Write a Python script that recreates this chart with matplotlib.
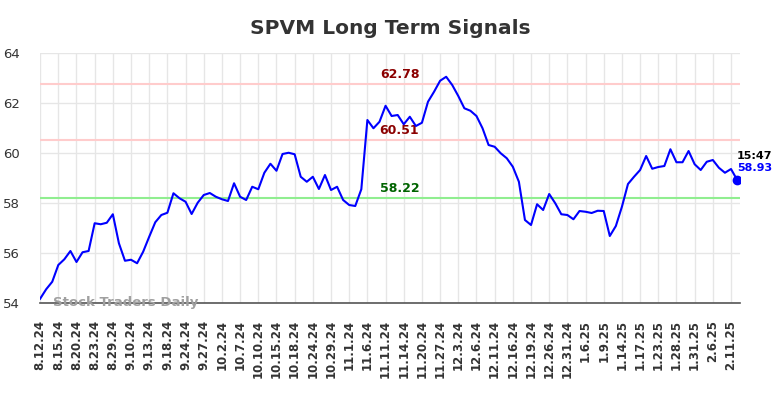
"""
SPVM long term signals chart: closing prices with the three signal levels.
"""

import matplotlib
matplotlib.use('Agg')
import matplotlib.pyplot as plt


title = 'SPVM Long Term Signals'

prices = [
	54.17, 54.55, 54.85, 55.52, 55.75, 56.08, 55.64, 56.03, 56.08, 57.19,
	57.15, 57.21, 57.55, 56.39, 55.69, 55.73, 55.59, 56.05, 56.65, 57.23,
	57.52, 57.61, 58.39, 58.19, 58.05, 57.56, 58.01, 58.32, 58.40, 58.25,
	58.15, 58.08, 58.79, 58.25, 58.12, 58.65, 58.55, 59.21, 59.57, 59.29,
	59.96, 60.01, 59.95, 59.05, 58.85, 59.05, 58.56, 59.12, 58.52, 58.65,
	58.12, 57.92, 57.88, 58.55, 61.32, 60.99, 61.25, 61.89, 61.48, 61.52,
	61.15, 61.45, 61.08, 61.21, 62.05, 62.45, 62.89, 63.05, 62.72, 62.28,
	61.79, 61.69, 61.48, 60.99, 60.32, 60.25, 59.99, 59.79, 59.45, 58.85,
	57.32, 57.12, 57.95, 57.72, 58.36, 57.99, 57.55, 57.52, 57.35, 57.68,
	57.65, 57.60, 57.69, 57.68, 56.68, 57.08, 57.85, 58.76, 59.05, 59.32,
	59.88, 59.37, 59.44, 59.48, 60.15, 59.63, 59.63, 60.08, 59.55, 59.32,
	59.65, 59.72, 59.41, 59.21, 59.36, 58.93,
]

# one label every third session
tick_labels = [
	'8.12.24', '8.15.24', '8.20.24', '8.23.24', '8.29.24', '9.10.24',
	'9.13.24', '9.18.24', '9.24.24', '9.27.24', '10.2.24', '10.7.24',
	'10.10.24', '10.15.24', '10.18.24', '10.24.24', '10.29.24', '11.1.24',
	'11.6.24', '11.11.24', '11.14.24', '11.20.24', '11.27.24', '12.3.24',
	'12.6.24', '12.11.24', '12.16.24', '12.19.24', '12.26.24', '12.31.24',
	'1.6.25', '1.9.25', '1.14.25', '1.17.25', '1.23.25', '1.28.25',
	'1.31.25', '2.6.25', '2.11.25',
]

resistance = [62.78, 60.51]
support = [58.22]
last_time = '15:47'


def main():
	fig = plt.figure(figsize=(7.84, 3.98), dpi=100)
	ax = fig.add_axes([0.0504, 0.2387, 0.8936, 0.6281])

	xs = list(range(len(prices)))
	ax.plot(xs, prices, color='#0000ff', linewidth=1.5, zorder=4)
	ax.plot(xs[-1], prices[-1], 'o', color='#0000ff', markersize=6, zorder=5)

	for level in resistance:
		ax.axhline(level, color='#ffcccc', linewidth=1.5, zorder=2)
	for level in support:
		ax.axhline(level, color='#90ee90', linewidth=1.5, zorder=2)

	mid = 59.3
	for level in resistance:
		ax.text(mid, level + 0.12, '%.2f' % level, color='#8b0000',
		        fontsize=9, fontweight='bold', ha='center', va='bottom')
	for level in support:
		ax.text(mid, level + 0.12, '%.2f' % level, color='#006400',
		        fontsize=9, fontweight='bold', ha='center', va='bottom')

	ax.text(xs[-1] - 0.05, prices[-1] + 0.76, last_time, color='black',
	        fontsize=8, fontweight='bold', ha='left', va='bottom')
	ax.text(xs[-1] - 0.05, prices[-1] + 0.66, '%.2f' % prices[-1],
	        color='#0000ff', fontsize=8, fontweight='bold', ha='left', va='top')

	ax.text(2.2, 54.0, 'Stock Traders Daily', color='#a0a0a0', fontsize=9.5,
	        fontweight='bold', ha='left', va='center', zorder=6)

	ax.set_xlim(-0.1, 115.5)
	ax.set_ylim(54, 64)
	ax.set_yticks(range(54, 65, 2))
	ax.set_xticks(range(0, 3 * len(tick_labels), 3))
	ax.set_xticklabels(tick_labels, rotation=90, fontsize=8.5,
	                   fontweight='bold', color='#333333')
	ax.tick_params(axis='y', labelsize=9.5, colors='#333333', length=0, pad=14)
	ax.tick_params(axis='x', length=0, pad=12)

	ax.grid(True, color='#e6e6e6', linewidth=1)
	ax.set_axisbelow(True)
	for side in ['top', 'right', 'left']:
		ax.spines[side].set_visible(False)
	ax.spines['bottom'].set_color('#555555')
	ax.spines['bottom'].set_linewidth(1.2)

	fig.suptitle(title, x=0.4975, y=0.952, fontsize=14.5, fontweight='bold',
	             color='#333333')

	fig.savefig('out.png', dpi=100)

if __name__ == '__main__':
	main()
